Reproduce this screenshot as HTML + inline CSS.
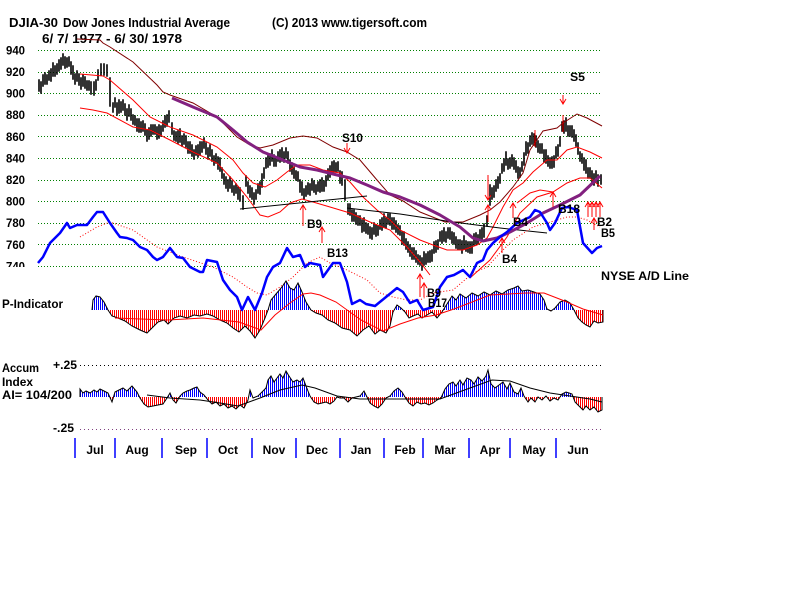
<!DOCTYPE html>
<html><head><meta charset="utf-8"><style>
html,body{margin:0;padding:0;background:#fff;}
svg{display:block;}
</style></head><body>
<svg width="800" height="600" viewBox="0 0 800 600" xmlns="http://www.w3.org/2000/svg" xmlns:xlink="http://www.w3.org/1999/xlink" font-family="'Liberation Sans', Arial, sans-serif" font-weight="bold">
<defs>
<pattern id="pbl" width="2" height="4" patternUnits="userSpaceOnUse"><rect width="1" height="4" fill="#0000ff"/></pattern>
<pattern id="prd" width="2" height="4" patternUnits="userSpaceOnUse"><rect width="1" height="4" fill="#ff0000"/></pattern>
<clipPath id="pu"><rect x="0" y="250" width="800" height="60"/></clipPath>
<clipPath id="pd"><rect x="0" y="310" width="800" height="60"/></clipPath>
<clipPath id="au"><rect x="0" y="340" width="800" height="57"/></clipPath>
<clipPath id="ad"><rect x="0" y="397" width="800" height="40"/></clipPath>
<clipPath id="lab"><rect x="0" y="0" width="40" height="267"/></clipPath>
<polyline id="pp" points="92,310 93,300 96,296 100,297 104,302 108,310 112,316 118,318 125,321 132,326 140,330 147,333 152,328 158,322 164,320 168,324 174,318 180,316 187,318 194,315 200,316 207,314 213,316 220,320 227,323 233,328 239,332 245,326 250,331 255,338 260,330 265,318 268,310 271,300 276,294 282,287 286,281 290,288 294,290 298,283 302,292 306,302 311,310 316,313 322,315 328,320 335,323 342,328 350,330 357,336 363,330 369,326 375,334 380,330 386,333 390,326 393,312 397,305 401,308 405,312 409,318 413,316 418,314 422,318 427,315 432,312 437,318 442,312 447,304 452,296 456,300 460,294 466,298 472,293 478,296 484,292 490,295 496,291 502,294 508,290 514,288 518,286 522,291 528,290 534,292 540,294 544,300 547,309 551,311 555,308 560,302 565,300 570,303 574,310 578,318 582,322 586,325 590,327 594,321 598,323 603,322 603,310"/>
<polyline id="ap" points="80,397 80,389 83,393 86,391 90,393 94,390 97,392 100,389 104,391 108,393 112,402 115,392 119,390 123,388 127,391 132,386 137,392 140,398 144,404 148,407 153,406 158,405 163,404 167,398 170,393 173,400 176,403 180,396 183,393 187,391 190,390 194,388 197,387 200,392 204,395 208,400 212,404 216,402 220,406 224,404 228,408 232,406 236,409 240,405 244,408 248,400 250,390 253,398 258,396 262,392 266,388 268,380 271,376 274,382 277,378 280,374 283,378 286,371 289,376 293,382 297,380 300,382 303,378 306,386 310,396 314,402 318,404 322,403 326,402 330,404 334,401 337,397 340,398 344,398 348,402 352,398 356,397 360,396 364,391 367,397 370,403 374,406 378,408 382,404 386,398 390,396 394,391 398,388 402,392 405,397 409,403 413,406 417,402 421,404 425,403 429,405 433,403 437,400 441,398 445,389 449,384 453,382 456,386 460,380 463,385 467,378 471,380 474,384 478,377 482,381 486,376 488,370 491,384 495,388 499,385 503,382 507,389 510,383 514,392 518,394 521,388 524,396 528,402 531,398 535,402 538,397 542,400 546,396 550,401 554,398 558,400 562,394 566,392 569,393 572,394 575,402 579,406 583,410 586,406 590,410 594,407 598,412 602,410 602,397"/>
</defs>
<rect width="800" height="600" fill="#fff"/>

<text x="9" y="27" font-size="12.5" textLength="49" lengthAdjust="spacingAndGlyphs">DJIA-30</text>
<text x="63" y="27" font-size="12.5" textLength="167" lengthAdjust="spacingAndGlyphs">Dow Jones Industrial Average</text>
<text x="272" y="27" font-size="12.5" textLength="155" lengthAdjust="spacingAndGlyphs">(C) 2013 www.tigersoft.com</text>
<text x="42" y="43" font-size="12.5" textLength="140" lengthAdjust="spacingAndGlyphs">6/ 7/ 1977 - 6/ 30/ 1978</text>

<g font-size="11.5" clip-path="url(#lab)">
<text x="6" y="54.5" textLength="19" lengthAdjust="spacingAndGlyphs">940</text>
<text x="6" y="76" textLength="19" lengthAdjust="spacingAndGlyphs">920</text>
<text x="6" y="97.5" textLength="19" lengthAdjust="spacingAndGlyphs">900</text>
<text x="6" y="119" textLength="19" lengthAdjust="spacingAndGlyphs">880</text>
<text x="6" y="141" textLength="19" lengthAdjust="spacingAndGlyphs">860</text>
<text x="6" y="162.5" textLength="19" lengthAdjust="spacingAndGlyphs">840</text>
<text x="6" y="184" textLength="19" lengthAdjust="spacingAndGlyphs">820</text>
<text x="6" y="205.5" textLength="19" lengthAdjust="spacingAndGlyphs">800</text>
<text x="6" y="227" textLength="19" lengthAdjust="spacingAndGlyphs">780</text>
<text x="6" y="249" textLength="19" lengthAdjust="spacingAndGlyphs">760</text>
<text x="6" y="270.5" textLength="19" lengthAdjust="spacingAndGlyphs">740</text>
</g>

<path d="M38,50.5H602M38,72.5H602M38,93.5H602M38,115.5H602M38,136.5H602M38,158.5H602M38,180.5H602M38,201.5H602M38,223.5H602M38,244.5H602M38,266.5H602" stroke="#008000" stroke-width="1" stroke-dasharray="1 2" fill="none"/>

<path fill="none" stroke="#000" stroke-width="1.6" stroke-linecap="square" d="M39 80V91M41 82V93M43 75V86M45 73V84M47 75V84M49 71V80M51 69V81M53 63V76M55 66V76M57 64V74M59 60V71M61 58V69M63 54V65M65 57V68M67 58V67M69 57V66M71 62V74M73 66V79M75 74V84M77 71V81M79 74V85M81 78V89M83 75V86M85 77V88M87 81V90M89 81V90M91 82V94M94 82V95M96 80V90M98 70V80M101 64V75M104 64V75M107 65V76M110 78V106M113 103V112M115 98V107M117 103V115M119 100V113M121 102V112M123 100V110M125 104V115M127 109V120M129 105V116M131 109V120M133 115V124M135 116V125M137 119V131M139 119V132M141 122V132M143 121V131M145 124V135M147 130V141M149 128V139M151 125V136M153 125V134M155 125V134M157 127V139M159 125V138M161 126V136M163 121V131M165 116V127M167 115V126M169 111V122M172 123V134M174 131V140M176 132V141M178 131V143M180 129V142M182 136V146M184 134V144M186 136V147M188 142V153M190 142V153M192 145V156M194 150V159M196 146V155M198 145V157M200 142V155M202 142V152M204 138V148M206 143V154M208 148V159M210 145V156M212 150V161M214 156V165M216 154V163M218 157V169M220 158V171M222 168V178M224 174V184M226 177V188M228 180V191M230 177V188M232 181V192M234 186V195M236 184V193M238 187V199M240 188V201M243 196V209M246 176V186M248 182V193M250 186V197M252 188V199M254 193V204M256 190V199M258 184V193M260 182V194M262 174V187M264 168V178M266 158V168M268 156V167M270 154V165M272 150V161M274 155V166M276 157V166M278 152V161M280 150V162M282 148V161M284 152V162M286 148V158M288 152V163M290 160V171M292 163V174M294 167V178M296 171V180M298 172V181M300 180V192M302 182V195M304 189V199M306 186V196M308 183V194M310 184V195M312 179V190M314 181V192M316 185V194M318 182V191M320 180V192M322 178V191M324 181V191M326 176V186M328 169V180M330 166V177M332 162V173M334 161V172M336 163V172M338 162V171M340 171V183M342 172V185M345 180V200M348 204V214M350 204V215M352 210V221M354 210V221M356 213V224M358 216V225M360 216V225M362 220V232M364 218V231M366 223V233M368 224V234M370 227V238M372 228V239M374 223V234M376 225V236M378 226V235M380 220V229M382 218V230M384 214V227M386 218V228M388 214V224M390 214V225M392 218V229M394 218V229M396 221V232M398 225V234M400 226V235M402 232V244M404 232V245M406 239V249M408 242V252M410 245V256M412 248V259M414 248V259M416 251V262M418 255V264M420 256V265M422 258V270M424 252V265M426 254V264M428 252V262M430 251V262M432 250V261M434 242V253M436 241V252M438 240V249M440 232V241M442 231V243M444 228V241M446 232V242M448 228V238M450 228V239M452 232V243M454 233V244M456 237V248M458 240V249M460 240V249M462 241V253M464 236V249M466 241V251M468 242V252M470 242V253M472 242V253M474 234V245M476 233V244M478 235V244M480 230V239M482 228V240M484 224V237M487 216V226M490 185V205M492 188V199M494 186V197M496 180V191M498 177V188M500 174V183M502 164V173M504 159V171M506 152V165M508 159V169M510 158V168M512 155V166M514 158V169M516 161V172M518 167V178M520 168V177M522 162V171M524 153V165M526 142V155M528 143V153M530 136V146M532 133V144M534 134V145M536 136V147M538 141V152M540 144V153M542 144V153M544 150V162M546 150V163M548 156V166M550 158V168M552 157V168M554 156V167M556 147V158M558 145V156M560 137V146M562 122V131M564 121V133M566 118V131M568 126V136M570 126V136M572 126V137M574 130V141M576 135V146M578 143V154M580 152V161M582 154V163M584 158V170M586 160V173M588 168V178M590 168V178M592 171V182M594 174V185M596 171V182M598 175V186M601 175V184"/>

<g fill="none" stroke-width="1">
<polyline stroke="#ff0000" points="80,74 103,76 110,80 133,100 150,117 170,127 193,135 217,147 233,160 243,173 253,183 265,187 277,180 287,172 297,165 310,165 323,170 340,173 350,182 363,197 377,210 390,220 400,230 420,240 433,245 447,250 463,250 477,245 487,238 493,227 503,207 513,190 523,183 533,172 547,160 557,160 567,150 577,147 590,152 602,158"/>
<polyline stroke="#ff0000" points="80,108 93,110 107,113 133,127 150,130 170,140 193,152 217,163 233,180 247,197 260,215 268,217 280,212 290,203 302,199 313,202 330,207 350,213 370,222 390,230 407,247 420,262 430,275"/>
<polyline stroke="#ff0000" points="470,278 490,260 507,237 520,213 537,197 553,192 567,183 580,178 590,178 602,188"/>
<polyline stroke="#ff0000" points="517,203 530,193 540,190 553,192"/>
<polyline stroke="#800000" points="77,39 100,40 103,43 110,47 133,62 157,85 163,92 170,95 193,103 217,117 237,137 250,145 260,148 273,145 290,138 303,136 317,138 333,147 347,152 360,160 377,180 390,195 403,201 420,212 445,222 463,222 480,215 490,210 500,202 513,187 523,173 530,150 543,131 557,128 563,123 577,114 587,118 602,126"/>
<polyline stroke="#000" points="240,209 367,196"/>
<polyline stroke="#000" points="347,208 400,214 453,222 500,228 547,233"/>
</g>

<polyline fill="none" stroke="#82207f" stroke-width="3" stroke-linejoin="round" points="172,98 193,107 217,117 233,130 247,142 263,152 283,160 300,167 317,170 337,175 350,178 367,185 383,192 400,197 420,205 440,215 460,227 473,238 483,241 497,238 510,232 527,223 543,213 560,205 580,195 600,176"/>

<polyline fill="none" stroke="#ff0000" stroke-width="1" stroke-dasharray="1 2" points="80,237 97,227 110,222 133,230 157,247 183,257 213,267 233,277 247,287 257,293 267,295 280,287 293,277 307,263 320,257 330,263 347,270 367,280 380,293 393,297 407,300 420,300 433,293 453,290 473,273 487,267 500,253 513,240 533,227 547,223 567,217 577,217 587,220 600,227"/>

<use xlink:href="#pp" href="#pp" fill="url(#pbl)" stroke="none" clip-path="url(#pu)"/>
<use xlink:href="#pp" href="#pp" fill="url(#prd)" stroke="none" clip-path="url(#pd)"/>
<use xlink:href="#pp" href="#pp" fill="none" stroke="#000" stroke-width="1"/>
<polyline fill="none" stroke="#ff0000" stroke-width="1" points="115,318 168,320 203,318 239,322 261,330 275,315 290,303 303,294 311,293 320,295 336,302 361,320 383,331 400,324 418,318 436,315 454,309 490,295 526,293 544,293 562,300 583,309 603,315"/>

<polyline fill="none" stroke="#0000ff" stroke-width="2.5" stroke-linejoin="round" points="38,263 43,257 50,243 60,233 67,223 70,228 77,225 87,225 93,217 97,212 103,212 110,223 117,233 120,237 127,238 133,240 140,247 147,250 153,257 157,260 163,257 170,248 177,257 183,258 190,267 200,272 203,272 207,260 217,262 223,280 230,290 237,297 242,310 248,297 255,310 262,293 267,277 273,267 280,263 287,248 293,257 300,255 305,267 310,263 320,265 323,277 333,263 340,263 347,282 352,304 360,300 366,304 375,306 386,297 397,288 403,292 410,303 417,300 423,310 433,307 440,287 447,277 454,275 463,270 470,277 477,263 483,260 487,250 493,243 500,237 507,232 517,223 530,217 535,210 540,212 547,223 550,230 555,223 562,208 568,207 577,210 583,243 592,253 597,248 602,246"/>

<g stroke="#ff0000" stroke-width="1" fill="none">
<path d="M347,143V153M344,148L347,153L350,148"/>
<path d="M303,205V226M300,210L303,205L306,210"/>
<path d="M322,227V243M319,232L322,227L325,232"/>
<path d="M420,274V297M417,279L420,274L423,279"/>
<path d="M424,283V297M421,288L424,283L427,288"/>
<path d="M502,238V253M499,243L502,238L505,243"/>
<path d="M513,203V218M510,208L513,203L516,208"/>
<path d="M488,175V200M485,195L488,200L491,195"/>
<path d="M488,205V222M485,210L488,205L491,210"/>
<path d="M535,130V147"/>
<path d="M563,95V104M560,99L563,104L566,99"/>
<path d="M563,115V132"/>
<path d="M553,192V207M550,197L553,192L556,197"/>
<path d="M588,202V217M585,207L588,202L591,207"/>
<path d="M592,202V217M589,207L592,202L595,207"/>
<path d="M596,202V217M593,207L596,202L599,207"/>
<path d="M600,202V217M597,207L600,202L603,207"/>
<path d="M594,218V230M591,223L594,218L597,223"/>
</g>

<g font-size="12">
<text x="342" y="142" textLength="21" lengthAdjust="spacingAndGlyphs">S10</text>
<text x="307" y="228" textLength="15" lengthAdjust="spacingAndGlyphs">B9</text>
<text x="327" y="257" textLength="21" lengthAdjust="spacingAndGlyphs">B13</text>
<text x="427" y="297" textLength="14" lengthAdjust="spacingAndGlyphs">B9</text>
<text x="428" y="307" textLength="19" lengthAdjust="spacingAndGlyphs">B17</text>
<text x="513" y="226" textLength="15" lengthAdjust="spacingAndGlyphs">B4</text>
<text x="502" y="263" textLength="15" lengthAdjust="spacingAndGlyphs">B4</text>
<text x="558" y="213" textLength="22" lengthAdjust="spacingAndGlyphs">B18</text>
<text x="570" y="81" textLength="15" lengthAdjust="spacingAndGlyphs">S5</text>
<text x="597" y="226" textLength="15" lengthAdjust="spacingAndGlyphs">B2</text>
<text x="601" y="237" textLength="14" lengthAdjust="spacingAndGlyphs">B5</text>
<text x="601" y="280" textLength="88" lengthAdjust="spacingAndGlyphs">NYSE A/D Line</text>
<text x="2" y="308" textLength="61" lengthAdjust="spacingAndGlyphs">P-Indicator</text>
<text x="2" y="372" textLength="37" lengthAdjust="spacingAndGlyphs">Accum</text>
<text x="2" y="386" textLength="31" lengthAdjust="spacingAndGlyphs">Index</text>
<text x="2" y="399" textLength="70" lengthAdjust="spacingAndGlyphs">AI= 104/200</text>
<text x="53" y="369" textLength="24" lengthAdjust="spacingAndGlyphs">+.25</text>
<text x="53" y="432" textLength="21" lengthAdjust="spacingAndGlyphs">-.25</text>
</g>
<path d="M80,365.5H603" stroke="#000" stroke-width="1" stroke-dasharray="1 3"/>
<path d="M80,429.5H603" stroke="#804080" stroke-width="1" stroke-dasharray="1 3"/>

<use xlink:href="#ap" href="#ap" fill="url(#pbl)" stroke="none" clip-path="url(#au)"/>
<use xlink:href="#ap" href="#ap" fill="url(#prd)" stroke="none" clip-path="url(#ad)"/>
<use xlink:href="#ap" href="#ap" fill="none" stroke="#000" stroke-width="1"/>
<polyline fill="none" stroke="#000" stroke-width="1" points="147,395 170,398 200,400 220,403 238,406 260,398 280,390 302,385 315,388 337,396 360,399 400,399 440,399 470,388 492,380 510,381 530,388 550,393 570,396 590,399 602,402"/>

<path d="M75,438V458M115,438V458M162,438V458M207,438V458M252,438V458M296,438V458M340,438V458M384,438V458M423,438V458M469,438V458M510,438V458M556,438V458" stroke="#0000ff" stroke-width="1.5"/>
<g font-size="12" text-anchor="middle">
<text x="95" y="454">Jul</text>
<text x="137" y="454">Aug</text>
<text x="186" y="454">Sep</text>
<text x="228" y="454">Oct</text>
<text x="274" y="454">Nov</text>
<text x="317" y="454">Dec</text>
<text x="361" y="454">Jan</text>
<text x="405" y="454">Feb</text>
<text x="445" y="454">Mar</text>
<text x="490" y="454">Apr</text>
<text x="534" y="454">May</text>
<text x="578" y="454">Jun</text>
</g>
</svg>
</body></html>
